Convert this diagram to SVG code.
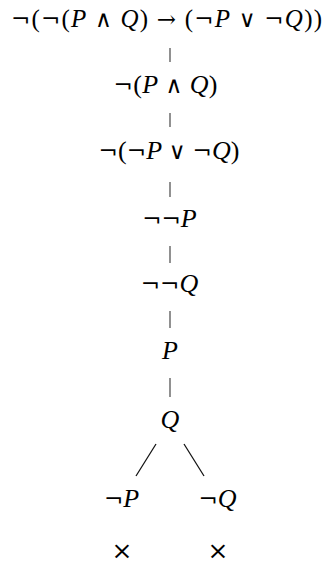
<svg xmlns="http://www.w3.org/2000/svg" width="328" height="565" viewBox="0 0 328 565">
<style>
text{font-family:"Liberation Serif","DejaVu Serif",serif;font-size:26px;fill:#000;text-anchor:middle}
.v{font-style:italic}
.o{font-family:"DejaVu Serif",serif;font-weight:normal;font-size:23px}
.n{font-family:"DejaVu Serif",serif;font-size:23px}
.x{font-family:"DejaVu Serif",serif;font-size:25px}
.s{font-size:25px}
.c{stroke:#555;stroke-width:1.3;fill:none}
.b{stroke:#111;stroke-width:1.3;fill:none}
</style>
<rect width="328" height="565" fill="#fff"/>
<g id="connectors">
<line class="c" x1="170" y1="48" x2="170" y2="62"/>
<line class="c" x1="170" y1="113" x2="170" y2="127"/>
<line class="c" x1="170" y1="182" x2="170" y2="197"/>
<line class="c" x1="170" y1="246" x2="170" y2="263"/>
<line class="c" x1="170" y1="311" x2="170" y2="328"/>
<line class="c" x1="170" y1="378" x2="170" y2="397"/>
<line class="b" x1="156" y1="444" x2="136" y2="476"/>
<line class="b" x1="184" y1="444" x2="204" y2="476"/>
</g>
<g id="n1"><text class="s" x="166.5" y="27" textLength="311" lengthAdjust="spacing"><tspan class="n">¬</tspan>(<tspan class="n">¬</tspan>(<tspan class="v">P</tspan> <tspan class="o">∧</tspan> <tspan class="v">Q</tspan>) <tspan class="o">→</tspan> (<tspan class="n">¬</tspan><tspan class="v">P</tspan> <tspan class="o">∨</tspan> <tspan class="n">¬</tspan><tspan class="v">Q</tspan>))</text></g>
<g id="n2"><text x="165.5" y="93" textLength="104" lengthAdjust="spacing"><tspan class="n">¬</tspan>(<tspan class="v">P</tspan> <tspan class="o">∧</tspan> <tspan class="v">Q</tspan>)</text></g>
<g id="n3"><text x="169" y="159" textLength="141" lengthAdjust="spacing"><tspan class="n">¬</tspan>(<tspan class="n">¬</tspan><tspan class="v">P</tspan> <tspan class="o">∨</tspan> <tspan class="n">¬</tspan><tspan class="v">Q</tspan>)</text></g>
<g id="n4"><text x="169.5" y="227"><tspan class="n">¬¬</tspan><tspan class="v">P</tspan></text></g>
<g id="n5"><text x="169.5" y="292"><tspan class="n">¬¬</tspan><tspan class="v">Q</tspan></text></g>
<g id="n6"><text x="170" y="359" class="v">P</text></g>
<g id="n7"><text x="170" y="428" class="v">Q</text></g>
<g id="n8"><text x="121.5" y="507"><tspan class="n">¬</tspan><tspan class="v">P</tspan></text></g>
<g id="n9"><text x="217.5" y="507"><tspan class="n">¬</tspan><tspan class="v">Q</tspan></text></g>
<g id="x1"><text class="x" x="122" y="559">×</text></g>
<g id="x2"><text class="x" x="218" y="559">×</text></g>
</svg>
